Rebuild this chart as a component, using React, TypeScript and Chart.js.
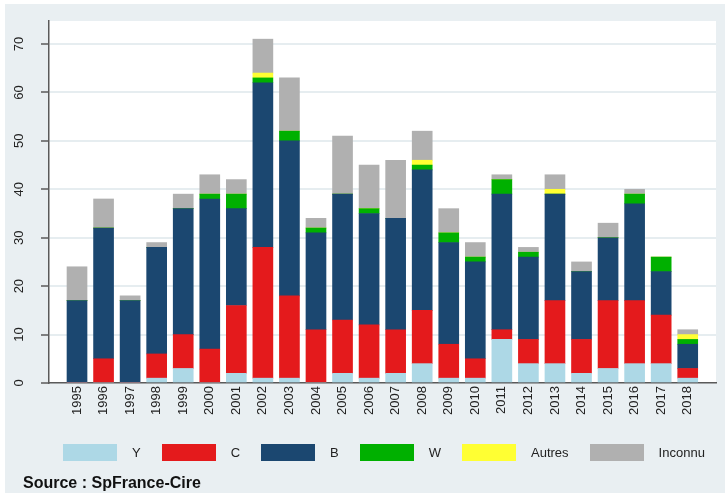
import React, { useEffect, useRef } from 'react';
import { Chart, registerables } from 'chart.js';

Chart.register(...registerables);

const years = [
  '1995', '1996', '1997', '1998', '1999', '2000', '2001', '2002', '2003', '2004', '2005', '2006',
  '2007', '2008', '2009', '2010', '2011', '2012', '2013', '2014', '2015', '2016', '2017', '2018',
];

const seriesY = [0, 0, 0, 1, 3, 0, 2, 1, 1, 0, 2, 1, 2, 4, 1, 1, 9, 4, 4, 2, 3, 4, 4, 1];
const seriesC = [0, 5, 0, 5, 7, 7, 14, 27, 17, 11, 11, 11, 9, 11, 7, 4, 2, 5, 13, 7, 14, 13, 10, 2];
const seriesB = [17, 27, 17, 22, 26, 31, 20, 34, 32, 20, 26, 23, 23, 29, 21, 20, 28, 17, 22, 14, 13, 20, 9, 5];
const seriesW = [0, 0, 0, 0, 0, 1, 3, 1, 2, 1, 0, 1, 0, 1, 2, 1, 3, 1, 0, 0, 0, 2, 3, 1];
const seriesAutres = [0, 0, 0, 0, 0, 0, 0, 1, 0, 0, 0, 0, 0, 1, 0, 0, 0, 0, 1, 0, 0, 0, 0, 1];
const seriesInconnu = [7, 6, 1, 1, 3, 4, 3, 7, 11, 2, 12, 9, 12, 6, 5, 3, 1, 1, 3, 2, 3, 1, 0, 1];

const seriesNames = ['Y', 'C', 'B', 'W', 'Autres', 'Inconnu'];
const seriesColors = ['#add8e6', '#e41a1c', '#1b4770', '#00b000', '#ffff33', '#b0b0b0'];
const seriesData = [seriesY, seriesC, seriesB, seriesW, seriesAutres, seriesInconnu];

const yTickValues = [0, 10, 20, 30, 40, 50, 60, 70];
const sourceText = 'Source : SpFrance-Cire';

const FONT = "Arial, 'Liberation Sans', sans-serif";
const BG = '#e9eff2';

const plotBackground = {
  id: 'plotBackground',
  beforeDraw(chart: any) {
    const { ctx, chartArea } = chart;
    ctx.save();
    ctx.fillStyle = '#ffffff';
    ctx.fillRect(chartArea.left, chartArea.top, chartArea.right - chartArea.left, chartArea.bottom - chartArea.top);
    ctx.restore();
  },
};

const rotatedYLabels = {
  id: 'rotatedYLabels',
  afterDraw(chart: any) {
    const { ctx } = chart;
    const scale = chart.scales.y;
    ctx.save();
    ctx.font = `13px ${FONT}`;
    ctx.fillStyle = '#222';
    ctx.textAlign = 'center';
    ctx.textBaseline = 'middle';
    scale.ticks.forEach((t: any) => {
      const y = scale.getPixelForValue(t.value);
      ctx.save();
      ctx.translate(19, y);
      ctx.rotate(-Math.PI / 2);
      ctx.fillText(String(t.value), 0, 0);
      ctx.restore();
    });
    ctx.restore();
  },
};

export default function App() {
  const canvasRef = useRef<HTMLCanvasElement | null>(null);

  useEffect(() => {
    if (!canvasRef.current) return;
    const chart = new Chart(canvasRef.current, {
      type: 'bar',
      data: {
        labels: years,
        datasets: seriesNames.map((name, i) => ({
          label: name,
          data: seriesData[i],
          backgroundColor: seriesColors[i],
          borderWidth: 0,
          barThickness: 20,
          stack: 'all',
        })),
      },
      options: {
        animation: false,
        responsive: false,
        layout: { padding: { top: 21, right: 9, left: 0, bottom: 0 } },
        plugins: {
          legend: { display: false },
          title: { display: false },
          tooltip: { enabled: false },
        },
        scales: {
          x: {
            stacked: true,
            offset: false,
            afterBuildTicks: (scale: any) => {
              scale._startValue = -1.055;
              scale._valueRange = 25.12;
            },
            afterFit: (scale: any) => {
              scale.height = 110;
            },
            grid: { display: false, drawTicks: false },
            border: { display: true, color: '#5a5a5a', width: 1.5 },
            ticks: {
              autoSkip: false,
              minRotation: 90,
              maxRotation: 90,
              padding: 3,
              color: '#222',
              font: { family: FONT, size: 13 },
            },
          },
          y: {
            stacked: true,
            min: 0,
            max: 74.75,
            afterBuildTicks: (scale: any) => {
              scale.ticks = yTickValues.map((v) => ({ value: v }));
            },
            afterFit: (scale: any) => {
              scale.width = 49;
            },
            grid: {
              color: '#e6edf0',
              lineWidth: 2,
              drawTicks: true,
              tickLength: 8,
              tickColor: '#5a5a5a',
              tickWidth: 1.5,
            },
            border: { display: true, color: '#5a5a5a', width: 1.5 },
            ticks: { display: false, stepSize: 10, includeBounds: false },
          },
        },
      },
      plugins: [plotBackground, rotatedYLabels],
    });
    return () => chart.destroy();
  }, []);

  return (
    <div style={{ position: 'absolute', left: 0, top: 0, width: 725, height: 493, background: '#ffffff', overflow: 'hidden' }}>
      <div style={{ position: 'absolute', left: 5, top: 4, width: 720, height: 489, background: BG }} />
      <canvas ref={canvasRef} width={725} height={493} style={{ position: 'absolute', left: 0, top: 0, width: 725, height: 493 }} />
      <div
        style={{
          position: 'absolute',
          left: 63,
          top: 444,
          height: 17,
          display: 'flex',
          alignItems: 'center',
          fontFamily: FONT,
          fontSize: 13,
          color: '#222',
          whiteSpace: 'nowrap',
        }}
      >
        {seriesNames.map((name, i) => (
          <div key={name} style={{ display: 'flex', alignItems: 'center', marginRight: 21 }}>
            <div style={{ width: 54, height: 17, background: seriesColors[i], marginRight: 15 }} />
            <span style={{ lineHeight: '17px' }}>{name}</span>
          </div>
        ))}
      </div>
      <div
        style={{
          position: 'absolute',
          left: 23,
          top: 475,
          fontFamily: FONT,
          fontSize: 16,
          lineHeight: '16px',
          fontWeight: 'bold',
          color: '#111',
          whiteSpace: 'nowrap',
        }}
      >
        {sourceText}
      </div>
    </div>
  );
}
